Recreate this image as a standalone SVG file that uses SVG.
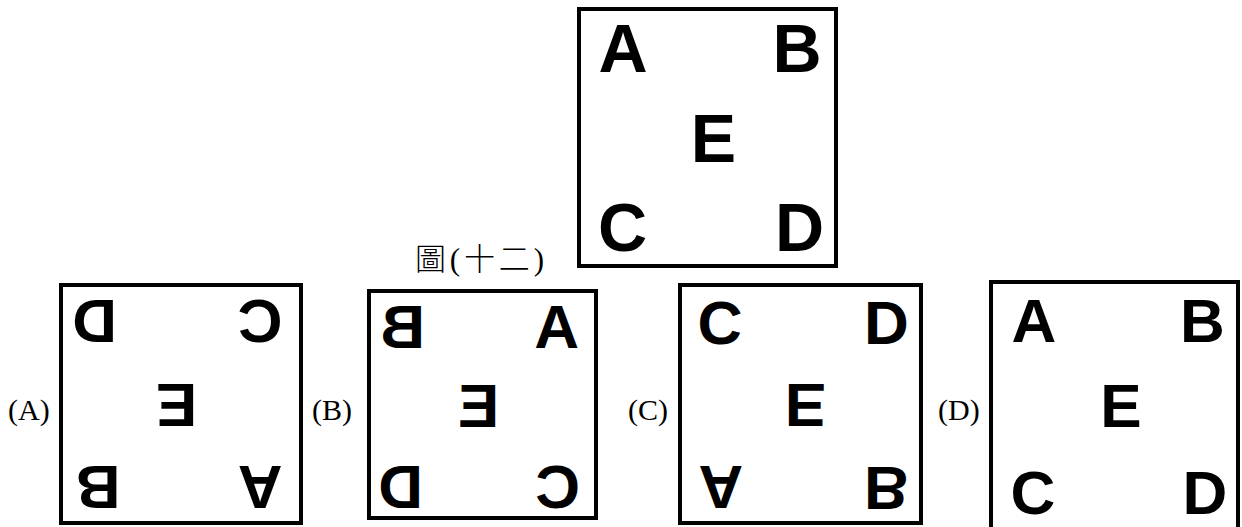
<svg xmlns="http://www.w3.org/2000/svg" width="1242" height="527" viewBox="0 0 1242 527">
<style>
.box{fill:#fff;stroke:#000;stroke-width:4}
.L{font-family:"Liberation Sans",Arial,sans-serif;font-weight:bold;fill:#000;text-anchor:middle}
.big{font-size:68px}
.sm{font-size:62px}
.lab{font-family:"Liberation Serif","Times New Roman",serif;font-size:30px;fill:#000}
.cap{font-family:"Liberation Serif","Noto Sans CJK TC",serif;font-size:31px;fill:#000}
.cjk{font-family:"Noto Sans CJK TC",sans-serif;font-weight:300}
</style>
<rect width="1242" height="527" fill="#fff"/>
<g id="figure12">
<rect class="box" x="579" y="9" width="257" height="257"/>
<text class="L big" x="623" y="71.5">A</text>
<text class="L big" x="797" y="71.5">B</text>
<text class="L big" x="713.5" y="161.5">E</text>
<text class="L big" x="622.5" y="250.5">C</text>
<text class="L big" x="799.5" y="250.5">D</text>
</g>
<g id="caption">
<text class="cap" x="415" y="270" textLength="129" lengthAdjust="spacing"><tspan class="cjk">圖</tspan>(<tspan class="cjk">十二</tspan>)</text>
</g>
<g id="optionA">
<text class="lab" x="8" y="420">(A)</text>
<rect class="box" x="61" y="285" width="240" height="238"/>
<g class="L sm">
<text transform="translate(94.5,321.5) rotate(180)" x="0" y="21.5">D</text>
<text transform="translate(260,321.5) rotate(180)" x="0" y="21.5">C</text>
<text transform="translate(176.5,405) rotate(180)" x="0" y="21.5">E</text>
<text transform="translate(98,487.5) rotate(180)" x="0" y="21.5">B</text>
<text transform="translate(260,487.5) rotate(180)" x="0" y="21.5">A</text>
</g>
</g>
<g id="optionB">
<text class="lab" x="312" y="420">(B)</text>
<rect class="box" x="369" y="291" width="227" height="227"/>
<g class="L sm">
<text transform="translate(402.5,326) scale(-1,1)" x="0" y="21.5">B</text>
<text transform="translate(556.5,326) scale(-1,1)" x="0" y="21.5">A</text>
<text transform="translate(478.5,405) scale(-1,1)" x="0" y="21.5">E</text>
<text transform="translate(400.5,486) scale(-1,1)" x="0" y="21.5">D</text>
<text transform="translate(557.5,486) scale(-1,1)" x="0" y="21.5">C</text>
</g>
</g>
<g id="optionC">
<text class="lab" x="628" y="420">(C)</text>
<rect class="box" x="680" y="285" width="241" height="238"/>
<g class="L sm">
<text transform="translate(720,323) scale(1,-1)" x="0" y="21.5">C</text>
<text transform="translate(886.5,323) scale(1,-1)" x="0" y="21.5">D</text>
<text transform="translate(805.5,405.5) scale(1,-1)" x="0" y="21.5">E</text>
<text transform="translate(721,487.5) scale(1,-1)" x="0" y="21.5">A</text>
<text transform="translate(886.5,488.5) scale(1,-1)" x="0" y="21.5">B</text>
</g>
</g>
<g id="optionD">
<text class="lab" x="938" y="420">(D)</text>
<rect class="box" x="991" y="282" width="247" height="260"/>
<g class="L sm">
<text x="1034" y="341.5">A</text>
<text x="1202.5" y="341.5">B</text>
<text x="1121" y="426.5">E</text>
<text x="1033" y="514">C</text>
<text x="1205" y="514">D</text>
</g>
</g>
</svg>
